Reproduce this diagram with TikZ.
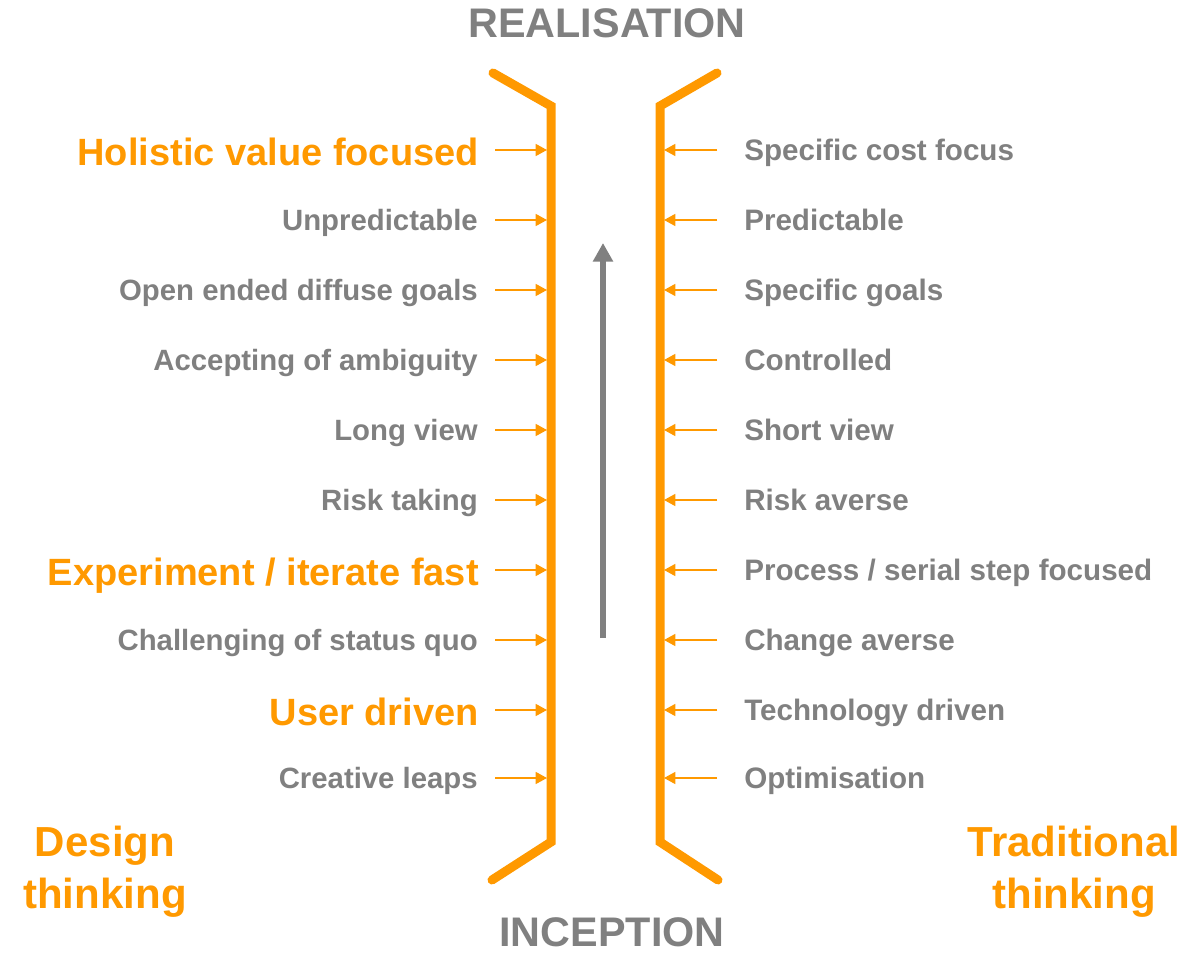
\documentclass[tikz,border=0pt]{standalone}
\usepackage{fontspec}
\setmainfont{Liberation Sans}
\usetikzlibrary{arrows.meta}
\definecolor{orng}{RGB}{255,153,0}
\definecolor{gry}{RGB}{128,128,128}
\begin{document}
\begin{tikzpicture}[x=0.75pt,y=-0.75pt,
  wall/.style={draw=orng,line width=6.75pt,line cap=round,line join=miter},
  pointer/.style={draw=orng,line width=1.1pt,-{Triangle[length=8.5pt,width=9pt]}},
  ltxt/.style={anchor=base east,yshift=-7.9pt,font=\bfseries\fontsize{22}{26}\selectfont,text=gry,inner sep=0pt},
  rtxt/.style={anchor=base west,yshift=-7.9pt,font=\bfseries\fontsize{22.2}{26}\selectfont,text=gry,inner sep=0pt},
  lbig/.style={ltxt,yshift=-3.5pt,font=\bfseries\fontsize{28.5}{32}\selectfont,text=orng},
  title/.style={font=\bfseries\fontsize{31}{36}\selectfont,text=gry,inner sep=0pt},
  side/.style={font=\bfseries\fontsize{31.5}{36}\selectfont,text=orng,align=center,inner sep=0pt}]
\useasboundingbox (0,0) rectangle (1200,959);
% walls
\coordinate (lt) at (493,73); \coordinate (ltc) at (551,106);
\coordinate (lbc) at (551,842); \coordinate (lb) at (492,880);
\coordinate (rt) at (717,73); \coordinate (rtc) at (660,106);
\coordinate (rbc) at (660,842); \coordinate (rb) at (718,880);
\draw[wall] (lt) -- (ltc) -- (lbc) -- (lb);
\draw[wall] (rt) -- (rtc) -- (rbc) -- (rb);
% titles
\node[title] (real) at (607,23) {REALISATION};
\node[title] (inc) at (612,932) {INCEPTION};
\node[side] (dt) at (105,872) {Design\\[3pt]thinking};
\node[side] (tt) at (1074,872) {Traditional\\[3pt]thinking};
% central arrow
\coordinate (ca) at (603,638); \coordinate (cb) at (603,243);
\draw[draw=gry,line width=5pt,-{Triangle[length=14pt,width=14.5pt]}] (ca) -- (cb);
% rows
\foreach \y/\L/\R/\big [count=\i] in {
  150/{Holistic value focused}/{Specific cost focus}/1,
  220/{Unpredictable}/{Predictable}/0,
  290/{Open ended diffuse goals}/{Specific goals}/0,
  360/{Accepting of ambiguity}/{Controlled}/0,
  430/{Long view}/{Short view}/0,
  500/{Risk taking}/{Risk averse}/0,
  570/{Experiment / iterate fast}/{Process / serial step focused}/1,
  640/{Challenging of status quo}/{Change averse}/0,
  710/{User driven}/{Technology driven}/1,
  778/{Creative leaps}/{Optimisation}/0}{
  \coordinate (la\i) at (495,\y); \coordinate (lw\i) at (547,\y);
  \coordinate (ra\i) at (717,\y); \coordinate (rw\i) at (664,\y);
  \draw[pointer] (la\i) -- (lw\i);
  \draw[pointer] (ra\i) -- (rw\i);
  \ifnum\big=1
    \node[lbig] (l\i) at (479,\y) {\L};
  \else
    \node[ltxt] (l\i) at (478,\y) {\L};
  \fi
  \node[rtxt] (r\i) at (744,\y) {\R};
}
\end{tikzpicture}
\end{document}
